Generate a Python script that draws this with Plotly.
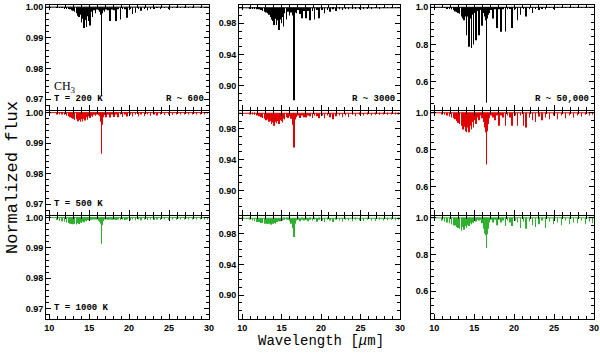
import plotly.graph_objects as go
from plotly.subplots import make_subplots

# line centres (micron), shared by all panels
line_um = [11.0, 11.3, 11.6, 11.9, 12.15, 12.4, 12.6, 12.8, 13.0, 13.2, 13.4, 13.6, 13.75, 13.9,
           14.05, 14.2, 14.35, 14.5, 14.65, 14.8, 14.95, 15.1, 15.25, 15.4, 15.6, 15.8, 16.0, 16.2,
           16.35, 16.45, 16.55, 16.65, 16.75,
           16.9, 17.1, 17.35, 17.6, 17.85, 18.1, 18.35, 18.6, 18.9, 19.2, 19.5, 19.75, 20.1, 20.45,
           20.8, 21.15, 21.5, 21.9, 22.3, 22.7, 23.1, 23.5, 23.95, 24.4, 24.9, 25.4, 25.9, 26.4,
           26.9, 27.4, 27.9, 28.4, 28.9, 29.4, 29.8]

# minimum normalized flux of each line, per temperature / resolution
flux_t200_r600 = [0.9999, 0.9998, 0.9998, 0.9997, 0.9996, 0.9995, 0.9993, 0.9990, 0.9988, 0.9985, 0.9980, 0.9972, 0.9968, 0.9975,
                  0.9950, 0.9962, 0.9932, 0.9958, 0.9935, 0.9970, 0.9955, 0.9940, 0.9985, 0.9968, 0.9990, 0.9980, 0.9992, 0.9990,
                  0.9985, 0.9975, 0.9710, 0.9980, 0.9990,
                  0.9985, 0.9992, 0.9990, 0.9955, 0.9992, 0.9990, 0.9955, 0.9993, 0.9960, 0.9994, 0.9993, 0.9965, 0.9995, 0.9978,
                  0.9982, 0.9995, 0.9988, 0.9996, 0.9990, 0.9997, 0.9994, 0.9998, 0.9996, 0.9998, 0.9997, 0.9999, 0.9998, 0.9999,
                  0.9999, 0.9999, 0.9999, 1.0, 0.9999, 1.0, 0.9999]
flux_t200_r3000 = [0.9995, 0.999, 0.999, 0.998, 0.998, 0.997, 0.996, 0.995, 0.994, 0.993, 0.991, 0.988, 0.985, 0.983,
                   0.978, 0.986, 0.978, 0.984, 0.9715, 0.985, 0.980, 0.988, 0.976, 0.993, 0.985, 0.995, 0.990, 0.994,
                   0.991, 0.990, 0.881, 0.991, 0.994,
                   0.993, 0.997, 0.992, 0.9865, 0.996, 0.9865, 0.996, 0.984, 0.996, 0.985, 0.997, 0.9865, 0.997, 0.993,
                   0.997, 0.995, 0.998, 0.996, 0.998, 0.997, 0.999, 0.998, 0.999, 0.9985, 0.9995, 0.999, 0.9995, 0.9995,
                   0.9998, 0.9997, 0.9998, 0.9998, 0.9999, 0.9999, 0.9999]
flux_t200_r50000 = [0.998, 0.997, 0.996, 0.994, 0.99, 0.985, 0.978, 0.975, 0.97, 0.965, 0.95, 0.94, 0.93, 0.95,
                    0.85, 0.95, 0.787, 0.94, 0.78, 0.96, 0.80, 0.97, 0.823, 0.98, 0.85, 0.985, 0.90, 0.97,
                    0.95, 0.93, 0.485, 0.94, 0.96,
                    0.97, 0.985, 0.94, 0.99, 0.888, 0.99, 0.868, 0.99, 0.87, 0.99, 0.995, 0.888, 0.995, 0.93,
                    0.96, 0.995, 0.95, 0.99, 0.97, 0.995, 0.985, 0.995, 0.99, 0.997, 0.995, 0.998, 0.997, 0.998,
                    0.998, 0.999, 0.999, 0.999, 0.999, 0.999, 0.999]
flux_t500_r600 = [0.9997, 0.9996, 0.9995, 0.9993, 0.9990, 0.9988, 0.9985, 0.9982, 0.9980, 0.9976, 0.9978, 0.9972, 0.9976, 0.9970,
                  0.9978, 0.9971, 0.9980, 0.9974, 0.9985, 0.9977, 0.9988, 0.9982, 0.9990, 0.9986, 0.9993, 0.9990, 0.9994, 0.9992,
                  0.9988, 0.9970, 0.9865, 0.9960, 0.9985,
                  0.9992, 0.9985, 0.9995, 0.9984, 0.9994, 0.9986, 0.9995, 0.9985, 0.9994, 0.9986, 0.9995, 0.9987, 0.9995, 0.9987,
                  0.9995, 0.9988, 0.9994, 0.9989, 0.9995, 0.9990, 0.9995, 0.9991, 0.9996, 0.9992, 0.9996, 0.9993, 0.9996, 0.9994,
                  0.9997, 0.9995, 0.9997, 0.9996, 0.9997, 0.9997, 0.9998]
flux_t500_r3000 = [0.999, 0.9985, 0.998, 0.997, 0.996, 0.995, 0.994, 0.993, 0.991, 0.992, 0.989, 0.990, 0.986, 0.988,
                   0.984, 0.989, 0.987, 0.990, 0.986, 0.991, 0.990, 0.988, 0.993, 0.992, 0.995, 0.994, 0.996, 0.993,
                   0.989, 0.985, 0.9558, 0.986, 0.992,
                   0.995, 0.997, 0.994, 0.997, 0.995, 0.9945, 0.997, 0.996, 0.994, 0.997, 0.996, 0.9935, 0.997, 0.9935,
                   0.997, 0.995, 0.9923, 0.996, 0.997, 0.995, 0.997, 0.995, 0.998, 0.996, 0.998, 0.997, 0.998, 0.997,
                   0.998, 0.998, 0.9985, 0.998, 0.9985, 0.9985, 0.999]
flux_t500_r50000 = [0.995, 0.99, 0.985, 0.98, 0.975, 0.97, 0.965, 0.955, 0.945, 0.94, 0.93, 0.91, 0.925, 0.90,
                    0.895, 0.92, 0.895, 0.93, 0.91, 0.95, 0.92, 0.96, 0.94, 0.975, 0.96, 0.985, 0.97, 0.95,
                    0.92, 0.895, 0.72, 0.90, 0.94,
                    0.97, 0.985, 0.975, 0.96, 0.985, 0.93, 0.985, 0.975, 0.93, 0.985, 0.975, 0.93, 0.985, 0.93,
                    0.985, 0.93, 0.92, 0.975, 0.96, 0.95, 0.98, 0.96, 0.975, 0.965, 0.985, 0.965, 0.985, 0.97,
                    0.985, 0.975, 0.985, 0.98, 0.99, 0.985, 0.99]
flux_t1000_r600 = [0.9992, 0.9990, 0.9988, 0.9986, 0.9984, 0.9982, 0.9980, 0.9979, 0.9978, 0.9980, 0.9977, 0.9982, 0.9979, 0.9984,
                   0.9982, 0.9987, 0.9985, 0.9990, 0.9988, 0.9992, 0.9991, 0.9994, 0.9993, 0.9995, 0.9995, 0.9996, 0.9994, 0.9990,
                   0.9986, 0.9980, 0.9914, 0.9975, 0.9988,
                   0.9994, 0.9996, 0.9993, 0.9996, 0.9993, 0.9996, 0.9992, 0.9996, 0.9992, 0.9996, 0.9992, 0.9996, 0.9991, 0.9996,
                   0.9991, 0.9996, 0.9991, 0.9995, 0.9992, 0.9996, 0.9992, 0.9996, 0.9992, 0.9996, 0.9993, 0.9996, 0.9993, 0.9996,
                   0.9994, 0.9996, 0.9994, 0.9997, 0.9995, 0.9997, 0.9995]
flux_t1000_r3000 = [0.998, 0.997, 0.996, 0.995, 0.995, 0.994, 0.994, 0.993, 0.993, 0.9925, 0.993, 0.992, 0.9917, 0.993,
                    0.994, 0.993, 0.995, 0.995, 0.996, 0.996, 0.997, 0.997, 0.998, 0.998, 0.9985, 0.998, 0.996, 0.993,
                    0.990, 0.987, 0.9756, 0.988, 0.993,
                    0.997, 0.998, 0.996, 0.998, 0.997, 0.998, 0.996, 0.998, 0.997, 0.9985, 0.9955, 0.998, 0.997, 0.995,
                    0.998, 0.997, 0.995, 0.998, 0.997, 0.9955, 0.998, 0.997, 0.996, 0.998, 0.997, 0.9965, 0.998, 0.997,
                    0.9965, 0.998, 0.997, 0.9975, 0.998, 0.9975, 0.998]
flux_t1000_r50000 = [0.985, 0.98, 0.975, 0.97, 0.965, 0.96, 0.958, 0.95, 0.945, 0.94, 0.93, 0.95, 0.935, 0.955,
                     0.945, 0.96, 0.955, 0.97, 0.965, 0.975, 0.97, 0.985, 0.98, 0.99, 0.985, 0.99, 0.97, 0.94,
                     0.915, 0.905, 0.836, 0.91, 0.94,
                     0.975, 0.99, 0.975, 0.99, 0.96, 0.99, 0.975, 0.985, 0.955, 0.985, 0.975, 0.955, 0.985, 0.975,
                     0.945, 0.98, 0.94, 0.98, 0.96, 0.95, 0.965, 0.985, 0.945, 0.98, 0.965, 0.975, 0.96, 0.985,
                     0.965, 0.975, 0.97, 0.985, 0.965, 0.98, 0.97]

continuum_um = [9.0, 31.0]
continuum_flux = [1.0, 1.0]

temperature_labels = ["T = 200 K", "T = 500 K", "T = 1000 K"]
resolution_labels = ["R ~ 600", "R ~ 3000", "R ~ 50,000"]

spectra = [[flux_t200_r600, flux_t200_r3000, flux_t200_r50000],
           [flux_t500_r600, flux_t500_r3000, flux_t500_r50000],
           [flux_t1000_r600, flux_t1000_r3000, flux_t1000_r50000]]
row_colors = ["black", "#e00000", "#2fb02f"]

W, H = 600, 357
col_px = [(46, 209), (239, 400), (431, 594)]
row_px = [(5, 109.5), (110.5, 214.5), (215.5, 319)]
yranges = [[0.9666, 1.0007], [0.869, 1.0036], [0.449, 1.0125]]
ydticks = [0.01, 0.04, 0.2]
ytick0 = [1.0, 0.9, 1.0]
yminor = [0.002, 0.01, 0.04]
yfmt = [".2f", ".2f", ".1f"]

fig = make_subplots(rows=3, cols=3)

for r in range(3):
    for c in range(3):
        fl = spectra[r][c]
        fig.add_trace(go.Bar(x=line_um, y=[f - 1.0 for f in fl], base=1.0, width=0.05,
                             marker=dict(color=row_colors[r], line=dict(width=0)),
                             showlegend=False), row=r + 1, col=c + 1)
        fig.add_trace(go.Scatter(x=continuum_um, y=continuum_flux, mode="lines",
                                 line=dict(color=row_colors[r], width=1), showlegend=False),
                      row=r + 1, col=c + 1)
        x0, x1 = col_px[c]
        y0, y1 = row_px[r]
        fig.update_xaxes(domain=[x0 / W, x1 / W], range=[9.6, 30.0], automargin=False,
                         showline=True, linecolor="black", linewidth=1, mirror="allticks",
                         ticks="inside", ticklen=5, tickcolor="black", dtick=5, tick0=10,
                         minor=dict(dtick=1, ticks="inside", ticklen=3, tickcolor="black"),
                         showgrid=False, zeroline=False, showticklabels=(r == 2),
                         tickfont=dict(family="Liberation Sans", size=9, color="black", weight="bold"),
                         row=r + 1, col=c + 1)
        fig.update_yaxes(domain=[1 - y1 / H, 1 - y0 / H], range=yranges[c], automargin=False,
                         showline=True, linecolor="black", linewidth=1, mirror="allticks",
                         ticks="inside", ticklen=5, tickcolor="black", dtick=ydticks[c], tick0=ytick0[c],
                         tickformat=yfmt[c],
                         minor=dict(dtick=yminor[c], ticks="inside", ticklen=3, tickcolor="black"),
                         showgrid=False, zeroline=False,
                         tickfont=dict(family="Liberation Sans", size=9, color="black", weight="bold"),
                         row=r + 1, col=c + 1)

annotations = []
lab_font = dict(family="Liberation Mono", size=9, color="black", weight="bold")
for r in range(3):
    annotations.append(dict(text=temperature_labels[r], xref="paper", yref="paper",
                            x=52 / W, y=1 - (row_px[r][1] - 4) / H, xanchor="left", yanchor="bottom",
                            showarrow=False, font=lab_font))
for c in range(3):
    annotations.append(dict(text=resolution_labels[c], xref="paper", yref="paper",
                            x=(col_px[c][1] - 3) / W, y=1 - (row_px[0][1] - 4) / H,
                            xanchor="right", yanchor="bottom", showarrow=False, font=lab_font))
annotations.append(dict(text="CH<sub>3</sub>", xref="paper", yref="paper", x=52 / W, y=1 - 97 / H,
                        xanchor="left", yanchor="bottom", showarrow=False,
                        font=dict(family="Liberation Serif", size=12, color="black")))
annotations.append(dict(text="Normalized flux", xref="paper", yref="paper", x=12 / W, y=1 - 178 / H,
                        textangle=-90, xanchor="center", yanchor="middle", showarrow=False,
                        font=dict(family="Liberation Mono", size=17, color="black")))
annotations.append(dict(text="Wavelength [<i>μ</i>m]", xref="paper", yref="paper", x=321 / W, y=1 - 341 / H,
                        xanchor="center", yanchor="middle", showarrow=False,
                        font=dict(family="Liberation Mono", size=14, color="black")))

fig.update_layout(width=W, height=H, margin=dict(l=0, r=0, t=0, b=0),
                  paper_bgcolor="white", plot_bgcolor="white", annotations=annotations,
                  font=dict(family="Liberation Sans", color="black"))

fig.write_html("out.html", config={"displayModeBar": False},
               post_script="document.body.style.margin = '0';")
